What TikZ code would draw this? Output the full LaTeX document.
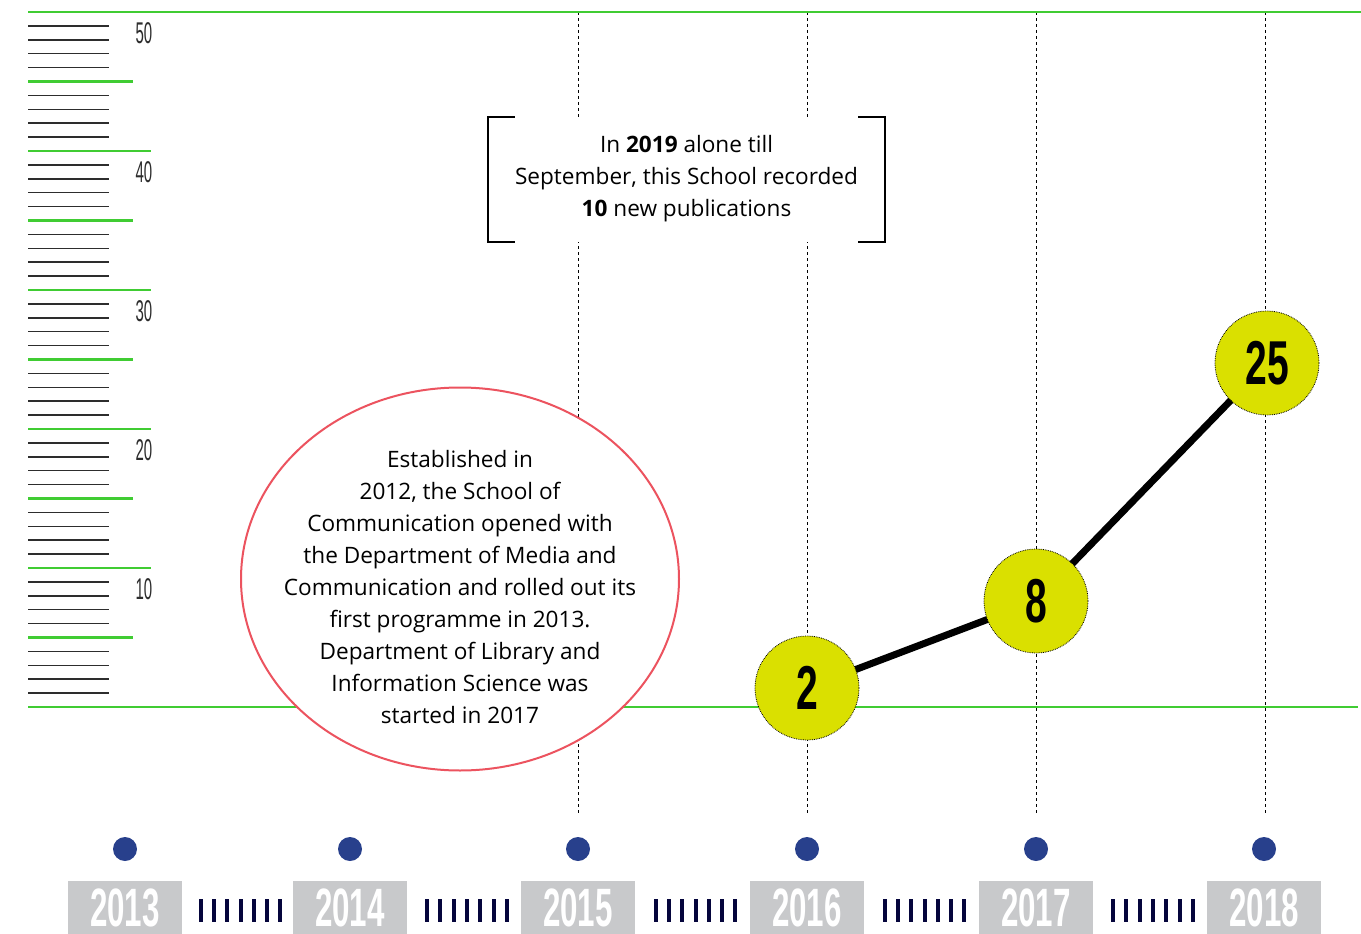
\documentclass[tikz,border=0pt]{standalone}
\usepackage{fontspec}
\setmainfont{Open Sans}
\newfontfamily\numfont{Liberation Sans}
\usetikzlibrary{backgrounds,calc,shapes.geometric}
\definecolor{grn}{RGB}{64,204,51}
\definecolor{yel}{RGB}{218,224,0}
\definecolor{dotblue}{RGB}{40,64,140}
\definecolor{boxgray}{RGB}{200,201,203}
\definecolor{elred}{RGB}{236,83,95}
\definecolor{navy}{RGB}{5,5,60}
\definecolor{tickgray}{RGB}{45,45,45}
\tikzset{
  tickline/.style={draw=tickgray,line width=1.5},
  grnline/.style={draw=grn,line width=2.5},
  gridline/.style={draw=black,line width=0.9,dash pattern=on 3 off 3},
  axlabel/.style={font=\numfont\fontsize{30}{30}\selectfont,text=tickgray,inner sep=0},
  datapt/.style={circle,fill=yel,draw=black,densely dotted,line width=0.8,minimum size=104,inner sep=0,font=\numfont\bfseries\fontsize{62}{62}\selectfont},
  trend/.style={draw=black,line width=7},
  yeardot/.style={circle,fill=dotblue,minimum size=24,inner sep=0},
  yearbox/.style={fill=boxgray,minimum width=114,minimum height=53,inner sep=0},
  yeartext/.style={inner sep=0,text=white,font=\numfont\bfseries\fontsize{54}{54}\selectfont},
  bar/.style={draw=navy,line width=4},
  bodytext/.style={align=center,font=\fontsize{22.6}{32}\selectfont,inner sep=0},
  brk/.style={draw=black,line width=2.5},
}
\newcommand{\cond}[2]{\scalebox{#1}[1]{#2}}
\begin{document}
\begin{tikzpicture}[x=1pt,y=-1pt]
\useasboundingbox (0,0) rectangle (1361,934);
% ruler
\foreach \v in {1,...,49}{
  \pgfmathtruncatemacro\r{mod(\v,5)}
  \ifnum\r=0\else
    \draw[tickline] (28,{707-\v*13.9}) -- (109,{707-\v*13.9});
  \fi
}
\foreach \v in {5,15,25,35,45}{\draw[grnline] (28,{707-\v*13.9}) -- (133,{707-\v*13.9});}
\foreach \v in {10,20,30,40}{\draw[grnline] (28,{707-\v*13.9}) -- (151,{707-\v*13.9});}
\foreach \v in {10,20,30,40,50}{\node[axlabel] (lab\v) at (144,{707-\v*13.9+21}) {\cond{0.5}{\v}};}
% vertical year grid lines
\foreach \x/\n in {578/15,807/16,1036/17,1265/18}{
  \coordinate (t\n) at (\x,12);
  \coordinate (b\n) at (\x,815);
  \draw[gridline] (t\n) -- (b\n);
}
% top and base lines
\draw[grnline] (28,12) -- (1361,12);
\draw[grnline] (28,707) -- (1358,707);
% ellipse
\node[ellipse,draw=elred,fill=white,line width=2,minimum width=438,minimum height=383,inner sep=0] (est) at (460,579) {};
\node[bodytext] (esttext) at (460,587) {Established in\\2012, the School of\\Communication opened with\\the Department of Media and\\Communication and rolled out its\\first programme in 2013.\\Department of Library and\\Information Science was\\started in 2017};
% bracket note
\node[fill=white,minimum width=397,minimum height=125,inner sep=0] (note) at (686.5,179.5) {};
\node[bodytext] (notetext) at (686.5,179) {In \textbf{2019} alone till\\September, this School recorded\\\textbf{10} new publications};
\draw[brk] ([xshift=27]note.north west) -- (note.north west) -- (note.south west) -- ([xshift=27]note.south west);
\draw[brk] ([xshift=-27]note.north east) -- (note.north east) -- (note.south east) -- ([xshift=-27]note.south east);
% data points
\node[datapt] (c2) at (807,688) {\cond{0.63}{2}};
\node[datapt] (c8) at (1036,601) {\cond{0.63}{8}};
\node[datapt] (c25) at (1267,363) {\cond{0.63}{25}};
\begin{scope}[on background layer]
\draw[trend] (c2.center) -- (c8.center) -- (c25.center);
\end{scope}
% year dots and boxes
\foreach \x/\n in {125/2013,350/2014,578/2015,807/2016,1036/2017,1264/2018}{
  \node[yeardot] (d\n) at (\x,849) {};
  \node[yearbox] (y\n) at (\x,907.5) {};
  \node[yeartext] (yl\n) at (\x,907.5) {\cond{0.58}{\n}};
}
\foreach \a/\b in {2013/2014,2014/2015,2015/2016,2016/2017,2017/2018}{
  \coordinate (m\a) at ($(y\a.east)!0.5!(y\b.west)+(3,3)$);
  \foreach \i in {-3,...,3}{
    \draw[bar] ($(m\a)+(\i*13.33,-11.5)$) -- ($(m\a)+(\i*13.33,11.5)$);
  }
}
\end{tikzpicture}
\end{document}
